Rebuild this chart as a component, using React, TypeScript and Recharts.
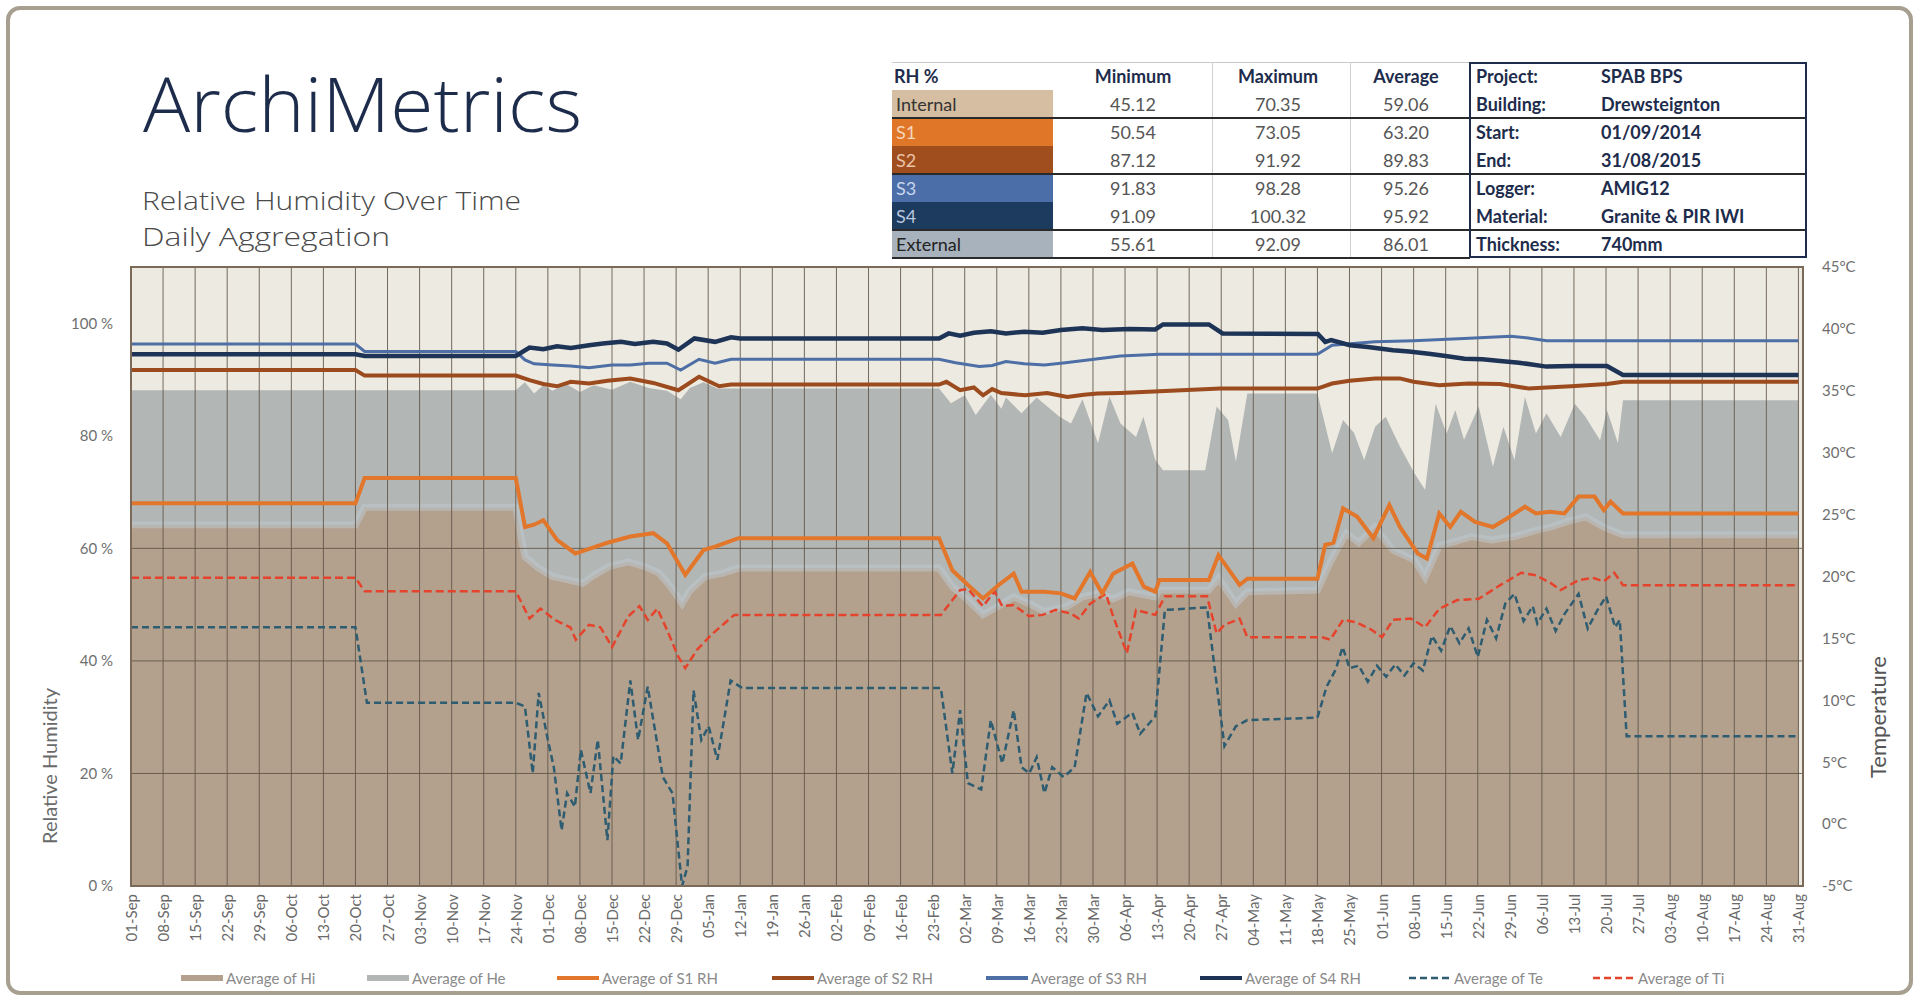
import React from "react";
import {
  ComposedChart,
  Area,
  Line,
  XAxis,
  YAxis,
  CartesianGrid,
  ReferenceLine,
} from "recharts";

// weekly tick labels, day 0 = 01-Sep-2014
const dateLabels = [
  "01-Sep", "08-Sep", "15-Sep", "22-Sep", "29-Sep", "06-Oct", "13-Oct", "20-Oct", "27-Oct",
  "03-Nov", "10-Nov", "17-Nov", "24-Nov", "01-Dec", "08-Dec", "15-Dec", "22-Dec", "29-Dec",
  "05-Jan", "12-Jan", "19-Jan", "26-Jan", "02-Feb", "09-Feb", "16-Feb", "23-Feb",
  "02-Mar", "09-Mar", "16-Mar", "23-Mar", "30-Mar", "06-Apr", "13-Apr", "20-Apr", "27-Apr",
  "04-May", "11-May", "18-May", "25-May", "01-Jun", "08-Jun", "15-Jun", "22-Jun", "29-Jun",
  "06-Jul", "13-Jul", "20-Jul", "27-Jul", "03-Aug", "10-Aug", "17-Aug", "24-Aug", "31-Aug",
];
const weekDays = dateLabels.map((_, i) => i * 7);
const rhTicks = [0, 20, 40, 60, 80, 100];
const tempTicks = [-5, 0, 5, 10, 15, 20, 25, 30, 35, 40, 45];
const rhGridValues = [20, 40, 60];

// [day, value]
const internalRH: [number, number][] = [
  [0, 64.2], [49, 64.2], [51, 67.3], [84, 67.3], [86, 58.5], [89, 56.5], [92, 55.0], [95, 54.5],
  [98.6, 53.8], [101, 55.2], [104.4, 56.8], [108.6, 57.6], [112, 56.8], [115.3, 55.6], [118, 53.0],
  [120.3, 50.2], [122, 52.5], [125.3, 55.0], [129.2, 55.6], [132.6, 56.5], [176.4, 56.5],
  [179.3, 53.2], [182.7, 50.8], [186, 48.2], [189, 49.6], [192.7, 51.4], [196, 50.2], [199.4, 48.8],
  [204.4, 49.7], [207.7, 51.4], [211.1, 52.0], [214.4, 51.0], [217.8, 52.3], [223.6, 51.4],
  [224.5, 52.6], [235.3, 52.6], [237.4, 54.7], [241.2, 50.2], [243.7, 52.3], [259, 52.6],
  [262, 57.9], [265.3, 62.7], [268, 61.0], [271.5, 63.8], [275.5, 59.7], [280.2, 57.9],
  [282.5, 54.9], [285.6, 60.5], [289, 61.2], [292.6, 62.1], [297, 61.5], [302, 62.1],
  [306.7, 63.2], [310, 63.8], [314.4, 65.0], [317.6, 65.6], [321.5, 63.8], [325.7, 62.4], [364, 62.4],
];

const externalRH: [number, number][] = [
  [0, 88.1], [84, 88.1], [86, 89.5], [88, 87.5], [90, 89.0], [92, 88.0], [95, 89.2], [98, 87.8],
  [101, 89.0], [105, 88.2], [109, 89.6], [113, 88.5], [117, 88.0], [120, 86.5], [122, 88.5],
  [125, 89.5], [128, 88.4], [176.4, 88.4], [179, 85.8], [182, 87.2], [184.4, 83.7], [187.7, 87.3],
  [190, 84.8], [191, 86.8], [194.4, 84.0], [197.7, 86.8], [202.7, 83.4], [205.2, 82.2],
  [207.7, 86.5], [211.1, 78.7], [213.6, 87.0], [216, 82.2], [219.4, 79.8], [221, 83.4],
  [223.6, 75.7], [225.3, 73.9], [234.5, 73.9], [237, 85.2], [239.5, 82.8], [241.2, 75.4],
  [243.7, 87.5], [259, 87.5], [262.2, 76.9], [264.6, 82.8], [267, 80.5], [269.2, 75.7],
  [271.6, 81.6], [273.9, 83.4], [277, 78.1], [280.2, 73.3], [282.5, 70.4], [284.8, 85.7],
  [287.2, 80.4], [289.1, 84.6], [291, 79.3], [294.2, 85.2], [297.3, 74.5], [299.6, 81.6],
  [302, 75.7], [304.3, 86.9], [306.7, 80.4], [309, 84.0], [312.1, 79.8], [315.2, 85.7],
  [317.5, 83.4], [320.7, 79.2], [322.2, 84.6], [324.6, 78.7], [325.7, 86.3], [364, 86.3],
];

const s1RH: [number, number][] = [
  [0, 68.0], [49, 68.0], [51, 72.5], [84, 72.5], [86, 63.8], [88, 64.2], [90, 65.0], [93, 61.5],
  [97, 59.1], [100, 59.9], [104, 61.0], [109, 62.1], [114, 62.7], [117, 60.9], [121, 55.3],
  [125, 59.7], [127.5, 60.3], [132.6, 61.8], [176.4, 61.8], [179.3, 56.1], [182.7, 53.5],
  [186, 51.1], [189.4, 53.5], [192.7, 55.5], [194.4, 52.3], [199.4, 52.3], [203, 52.0],
  [206, 51.1], [209.4, 55.8], [212, 52.0], [214.4, 55.5], [218.6, 57.3], [221.1, 53.2],
  [223.6, 52.3], [224.5, 54.4], [235.3, 54.4], [237.4, 58.8], [242, 53.5], [243.7, 54.6],
  [259, 54.6], [260.7, 60.6], [262.5, 61.0], [264.6, 67.1], [267.7, 65.6], [271.2, 61.8],
  [274.7, 67.7], [277, 63.8], [280.9, 59.1], [282.9, 58.2], [285.6, 66.2], [288, 63.8],
  [290.3, 66.5], [293.4, 64.7], [297.3, 63.8], [300.4, 65.3], [304.3, 67.4], [306.7, 66.2],
  [309.8, 66.5], [312.9, 66.2], [316, 69.2], [319.5, 69.2], [321.5, 66.8], [323, 68.3],
  [325.7, 66.2], [364, 66.2],
];

const s2RH: [number, number][] = [
  [0, 91.7], [49, 91.7], [51, 90.7], [84, 90.7], [87, 89.9], [90, 89.2], [93, 88.8], [96, 89.6],
  [100, 89.3], [104, 89.8], [109, 90.2], [114, 89.4], [119.5, 88.1], [124, 90.5], [128.4, 88.8],
  [131, 89.1], [176.4, 89.1], [178, 89.6], [181, 88.1], [184, 88.6], [186, 87.2], [188, 88.3],
  [190, 87.6], [195.2, 87.2], [200, 87.6], [204.4, 86.9], [208, 87.3], [211, 87.5], [216, 87.6],
  [224.5, 87.9], [237.8, 88.4], [259, 88.4], [262.2, 89.3], [266, 89.8], [271.6, 90.2],
  [277, 90.2], [280, 89.6], [285.6, 89.0], [292, 89.3], [298.9, 89.2], [305.1, 88.4],
  [309, 88.6], [314.4, 88.8], [322.2, 89.2], [325.7, 89.6], [364, 89.6],
];

const s3RH: [number, number][] = [
  [0, 96.3], [49, 96.3], [51, 95.0], [84, 95.0], [86, 93.5], [88, 92.8], [92, 92.6], [96, 92.4],
  [100, 92.1], [105, 92.6], [109, 92.6], [113, 92.9], [117, 92.9], [120, 91.7], [124, 93.6],
  [127.5, 92.9], [131, 93.6], [176.4, 93.6], [180, 93.0], [185.2, 92.3], [188, 92.5], [191, 93.2],
  [195, 92.8], [199.4, 92.6], [204, 93.0], [208, 93.4], [212, 93.8], [216, 94.2], [224.5, 94.5],
  [259, 94.5], [262.2, 96.1], [271.6, 96.7], [280, 96.9], [291, 97.3], [301.2, 97.7],
  [305, 97.4], [309, 96.9], [364, 96.9],
];

const s4RH: [number, number][] = [
  [0, 94.5], [49, 94.5], [51, 94.2], [84, 94.2], [87, 95.7], [90, 95.4], [93, 95.9], [96, 95.6],
  [100, 96.1], [103, 96.4], [107, 96.7], [110, 96.3], [114, 96.7], [117, 96.4], [119.5, 95.3],
  [123, 97.3], [127.5, 96.7], [131, 97.5], [133, 97.3], [176.4, 97.3], [178.5, 98.2], [181, 97.8],
  [184, 98.3], [187.7, 98.6], [191, 98.2], [195, 98.5], [199, 98.3], [203, 98.8], [207.7, 99.1],
  [212, 98.8], [218, 99.0], [223.6, 98.9], [225.3, 99.8], [235.3, 99.8], [238.3, 98.2],
  [259.1, 98.1], [260.7, 96.7], [262, 97.0], [266.1, 96.1], [270, 95.8], [275.5, 95.2],
  [279, 95.0], [283.3, 94.6], [287, 94.2], [291.1, 93.7], [295, 93.6], [298.9, 93.3],
  [303, 93.0], [309, 92.3], [315, 92.4], [322.2, 92.4], [325.7, 90.8], [364, 90.8],
];

const extTemp: [number, number][] = [
  [0, 15.9], [49, 15.9], [51.5, 9.8], [84, 9.8], [86, 9.5], [87.7, 4.1], [89, 10.6], [91, 6.8],
  [92.3, 4.6], [94, -0.5], [95.2, 2.5], [96.9, 1.4], [98.2, 6.0], [100.3, 2.5], [101.9, 6.8],
  [104, -1.3], [105.3, 5.5], [106.9, 4.9], [109, 11.6], [110.7, 6.8], [112.8, 11.1], [116.1, 3.8],
  [118.2, 2.5], [120.3, -5.0], [121.5, -3.4], [122.8, 10.8], [124.5, 6.8], [126.1, 7.9],
  [128, 5.2], [130.9, 11.6], [133.4, 11.0], [176.8, 11.0], [179.3, 4.1], [181, 9.2], [182.7, 3.3],
  [185.6, 2.8], [187.7, 8.4], [190.2, 4.9], [192.7, 9.2], [194.4, 4.6], [196.1, 4.1], [197.7, 5.4],
  [199.4, 2.5], [201.1, 4.6], [203.6, 3.8], [206, 4.6], [208.6, 10.6], [211.1, 8.7], [213.6, 10.0],
  [215.3, 8.1], [218.6, 9.0], [220.3, 7.3], [223.6, 8.7], [225.7, 17.3], [234.9, 17.5],
  [238.7, 6.3], [241.2, 7.9], [243.7, 8.4], [259, 8.6], [261, 11.1], [263, 12.5], [264.5, 14.3],
  [266, 12.6], [268, 12.8], [270, 11.5], [272, 12.8], [274, 11.9], [276, 12.9], [278, 12.0],
  [280, 13.0], [282, 12.4], [284, 15.2], [286, 14.0], [288, 16.0], [290, 14.6], [292, 15.8],
  [294, 13.5], [296, 16.5], [298, 15.0], [300, 17.8], [302, 18.6], [304, 16.4], [306, 17.6],
  [307, 16.2], [309, 17.4], [311, 15.6], [313, 17.0], [316, 18.6], [318, 15.8], [320, 17.2],
  [322, 18.4], [324, 15.9], [325, 16.5], [326.5, 7.1], [364, 7.1],
];

const intTemp: [number, number][] = [
  [0, 19.9], [49, 19.9], [51, 18.8], [84, 18.8], [87, 16.6], [89.4, 17.4], [92.5, 16.5],
  [95.9, 15.9], [97.1, 14.9], [100, 16.1], [102.5, 15.9], [105, 14.3], [108.6, 16.8], [111, 17.6],
  [112.8, 16.5], [114.9, 17.4], [117, 15.7], [119.5, 13.5], [121, 12.6], [123.6, 14.1],
  [127, 15.4], [131.7, 16.9], [176.8, 16.9], [181, 18.9], [182.7, 19.0], [186, 17.6],
  [188.5, 18.8], [190.2, 17.6], [192.7, 17.7], [196, 16.8], [199, 16.9], [201.9, 17.3],
  [205.2, 17.0], [206.9, 16.6], [209.4, 17.8], [212.8, 18.6], [214.4, 16.8], [217.4, 13.8],
  [219.4, 17.3], [223.6, 16.9], [225.7, 18.4], [234.9, 18.4], [237, 15.4], [238.7, 16.1],
  [240.8, 16.4], [242, 16.6], [243.7, 15.1], [259.9, 15.1], [261.8, 14.9], [264.6, 16.5],
  [267.5, 16.3], [270.8, 15.7], [273.1, 15.1], [275.5, 16.5], [279.4, 16.6], [282.5, 15.9],
  [285.6, 17.4], [289.5, 18.1], [294.2, 18.2], [298.9, 19.3], [303.5, 20.3], [306.7, 20.1],
  [309.8, 19.5], [312.1, 18.9], [316, 19.7], [319.1, 19.9], [321.5, 19.6], [323.8, 20.3],
  [325.7, 19.3], [364, 19.3],
];

// summary table
const rhRows = ["Internal", "S1", "S2", "S3", "S4", "External"];
const rhMin = [45.12, 50.54, 87.12, 91.83, 91.09, 55.61];
const rhMax = [70.35, 73.05, 91.92, 98.28, 100.32, 92.09];
const rhAvg = [59.06, 63.2, 89.83, 95.26, 95.92, 86.01];
const infoLabels = ["Project:", "Building:", "Start:", "End:", "Logger:", "Material:", "Thickness:"];
const infoValues = ["SPAB BPS", "Drewsteignton", "01/09/2014", "31/08/2015", "AMIG12", "Granite & PIR IWI", "740mm"];

const legendNames = [
  "Average of Hi", "Average of He", "Average of S1 RH", "Average of S2 RH",
  "Average of S3 RH", "Average of S4 RH", "Average of Te", "Average of Ti",
];

const C = {
  hi: "#B3A18E",
  he: "#B2B6B5",
  s1: "#E2762A",
  s2: "#9C4B1F",
  s3: "#4D6FA5",
  s4: "#1E3457",
  te: "#2E5C70",
  ti: "#E5432C",
  grid: "#5E5347",
  navy: "#1E2C4C",
};

const rowColors = ["#D6BEA2", "#E07628", "#A04E1E", "#4B6EA8", "#1D3A5F", "#A8B2BD"];
const rowText = ["#333", "#F6D6BC", "#EBC4A8", "#C9D6EE", "#B9C6DD", "#222"];
const legendStyle = [
  { c: C.hi, dash: "", w: 6 },
  { c: C.he, dash: "", w: 6 },
  { c: C.s1, dash: "", w: 4 },
  { c: C.s2, dash: "", w: 4 },
  { c: C.s3, dash: "", w: 4 },
  { c: C.s4, dash: "", w: 4 },
  { c: C.te, dash: "7 4", w: 2.5 },
  { c: C.ti, dash: "7 4", w: 2.5 },
];
const legendX = [181, 367, 557, 772, 986, 1200, 1409, 1593];

// merge all series into one table for the chart
const seriesMap: Record<string, [number, number][]> = {
  hi: internalRH, he: externalRH, s1: s1RH, s2: s2RH, s3: s3RH, s4: s4RH, te: extTemp, ti: intTemp,
};
const rowMap = new Map<number, any>();
Object.entries(seriesMap).forEach(([key, pts]) => {
  pts.forEach(([d, v]) => {
    const r = rowMap.get(d) ?? { d };
    r[key] = v;
    rowMap.set(d, r);
  });
});
const chartData = [...rowMap.values()].sort((a, b) => a.d - b.d);

const FONT = "Lato, 'Open Sans', sans-serif";
const TITLE_FONT = "'Open Sans', Lato, sans-serif";

const DateTick = (props: any) => {
  const { x, y, payload } = props;
  const label = dateLabels[Math.round(payload.value / 7)];
  return (
    <text
      x={x}
      y={y}
      transform={`rotate(-90 ${x} ${y})`}
      textAnchor="end"
      dominantBaseline="central"
      fontSize={15}
      fill="#6a6a6a"
      fontFamily={FONT}
    >
      {label}
    </text>
  );
};

const ROW_TOP = 62;
const ROW_H = 28;

function SummaryTable() {
  const cell: React.CSSProperties = {
    position: "absolute",
    height: ROW_H,
    lineHeight: `${ROW_H}px`,
    fontSize: 18,
    fontFamily: FONT,
    whiteSpace: "nowrap",
  };
  const centers = [1133, 1278, 1406];
  const headers = ["Minimum", "Maximum", "Average"];
  return (
    <div style={{ position: "absolute", left: 0, top: 0 }}>
      {/* header */}
      <div style={{ ...cell, left: 894, top: ROW_TOP, fontWeight: 700, color: C.navy }}>RH %</div>
      {headers.map((h, i) => (
        <div
          key={h}
          style={{ ...cell, left: centers[i] - 60, width: 120, top: ROW_TOP, textAlign: "center", fontWeight: 700, color: C.navy }}
        >
          {h}
        </div>
      ))}
      {rhRows.map((r, i) => {
        const top = ROW_TOP + ROW_H * (i + 1);
        return (
          <React.Fragment key={r}>
            <div style={{ ...cell, left: 892, top, width: 161, background: rowColors[i], color: rowText[i], paddingLeft: 4, boxSizing: "border-box" }}>
              {r}
            </div>
            {[rhMin[i], rhMax[i], rhAvg[i]].map((v, j) => (
              <div key={j} style={{ ...cell, left: centers[j] - 50, width: 100, top, textAlign: "center", color: "#555" }}>
                {v.toFixed(2)}
              </div>
            ))}
          </React.Fragment>
        );
      })}
      {/* grid lines of the table */}
      <div style={{ position: "absolute", left: 892, top: ROW_TOP, width: 578, height: 1, background: "#c8c8c8" }} />
      {[1212, 1350].map((x) => (
        <div key={x} style={{ position: "absolute", left: x, top: ROW_TOP, width: 1, height: ROW_H * 7, background: "#d0d0d0" }} />
      ))}
      {[2, 4, 6].map((k) => (
        <div key={k} style={{ position: "absolute", left: 892, top: ROW_TOP + ROW_H * k - 1, width: 915, height: 2, background: "#2a2a2a" }} />
      ))}
      <div style={{ position: "absolute", left: 892, top: ROW_TOP + ROW_H * 7 - 1, width: 578, height: 2, background: "#2a2a2a" }} />
      {/* info box */}
      <div
        style={{
          position: "absolute",
          left: 1469,
          top: ROW_TOP,
          width: 338,
          height: ROW_H * 7,
          border: `2px solid ${C.navy}`,
          boxSizing: "border-box",
        }}
      />
      {infoLabels.map((l, i) => (
        <React.Fragment key={l}>
          <div style={{ ...cell, left: 1476, top: ROW_TOP + ROW_H * i, fontWeight: 700, color: C.navy }}>{l}</div>
          <div style={{ ...cell, left: 1601, top: ROW_TOP + ROW_H * i, fontWeight: 700, color: C.navy }}>{infoValues[i]}</div>
        </React.Fragment>
      ))}
    </div>
  );
}

function LegendRow() {
  return (
    <svg width={1921} height={40} style={{ position: "absolute", left: 0, top: 958 }}>
      {legendNames.map((n, i) => {
        const s = legendStyle[i];
        const x = legendX[i];
        return (
          <g key={n}>
            <line x1={x} x2={x + 42} y1={20} y2={20} stroke={s.c} strokeWidth={s.w} strokeDasharray={s.dash || undefined} />
            <text x={x + 45} y={20} dominantBaseline="central" fontSize={15} fill="#8a8a8a" fontFamily={FONT}>
              {n}
            </text>
          </g>
        );
      })}
    </svg>
  );
}

export default function App() {
  return (
    <div style={{ position: "absolute", left: 0, top: 0, width: 1921, height: 1001, background: "#fff", overflow: "hidden" }}>
      {/* outer frame */}
      <div
        style={{
          position: "absolute",
          left: 6,
          top: 6,
          width: 1907,
          height: 989,
          border: "4px solid #A79F90",
          borderRadius: 14,
          boxSizing: "border-box",
        }}
      />
      {/* plot background */}
      <div style={{ position: "absolute", left: 131, top: 267, width: 1672, height: 619, background: "#EDEAE1" }} />

      <div style={{ position: "absolute", left: 0, top: 0 }}>
        <ComposedChart width={1921} height={1001} data={chartData} margin={{ top: 267, right: 0, bottom: 0, left: 0 }}>
          <XAxis
            dataKey="d"
            type="number"
            domain={[0, 365]}
            ticks={weekDays}
            interval={0}
            allowDataOverflow
            axisLine={false}
            tickLine={false}
            tickSize={0}
            tickMargin={8}
            height={115}
            tick={<DateTick />}
          />
          <YAxis
            yAxisId="rh"
            domain={[0, 110]}
            ticks={rhTicks}
            allowDataOverflow
            width={131}
            axisLine={false}
            tickLine={false}
            tickSize={0}
            tickMargin={18}
            tickFormatter={(v) => `${v} %`}
            tick={{ fill: "#6f6f6f", fontSize: 15, fontFamily: FONT }}
          />
          <YAxis
            yAxisId="t"
            orientation="right"
            domain={[-5, 45]}
            ticks={tempTicks}
            allowDataOverflow
            width={118}
            axisLine={false}
            tickLine={false}
            tickSize={0}
            tickMargin={19}
            tickFormatter={(v) => `${v}°C`}
            tick={{ fill: "#6f6f6f", fontSize: 15, fontFamily: FONT, textAnchor: "start" }}
          />

          <Area yAxisId="rh" type="linear" dataKey="he" fill={C.he} fillOpacity={1} stroke="none" connectNulls isAnimationActive={false} />
          <Area
            yAxisId="rh"
            type="linear"
            dataKey="hi"
            fill={C.hi}
            fillOpacity={1}
            stroke="#BEC9CE"
            strokeWidth={7}
            strokeOpacity={0.55}
            connectNulls
            isAnimationActive={false}
          />

          <CartesianGrid
            yAxisId="rh"
            horizontal={false}
            vertical
            stroke={C.grid}
            strokeOpacity={0.85}
            strokeWidth={1}
            zIndex={150}
          />
          {rhGridValues.map((v) => (
            <ReferenceLine key={v} yAxisId="rh" y={v} stroke={C.grid} strokeOpacity={0.85} strokeWidth={1} zIndex={150} />
          ))}

          <Line yAxisId="t" type="linear" dataKey="ti" stroke={C.ti} strokeWidth={2.5} strokeDasharray="8 4" dot={false} connectNulls isAnimationActive={false} />
          <Line yAxisId="t" type="linear" dataKey="te" stroke={C.te} strokeWidth={2.5} strokeDasharray="7 4" dot={false} connectNulls isAnimationActive={false} />
          <Line yAxisId="rh" type="linear" dataKey="s1" stroke={C.s1} strokeWidth={4} dot={false} connectNulls isAnimationActive={false} />
          <Line yAxisId="rh" type="linear" dataKey="s2" stroke={C.s2} strokeWidth={4} dot={false} connectNulls isAnimationActive={false} />
          <Line yAxisId="rh" type="linear" dataKey="s3" stroke={C.s3} strokeWidth={3} dot={false} connectNulls isAnimationActive={false} />
          <Line yAxisId="rh" type="linear" dataKey="s4" stroke={C.s4} strokeWidth={4.5} dot={false} connectNulls isAnimationActive={false} />
        </ComposedChart>
      </div>

      {/* plot frame */}
      <div
        style={{
          position: "absolute",
          left: 130,
          top: 266,
          width: 1674,
          height: 621,
          border: "2px solid #7B6A57",
          boxSizing: "border-box",
          pointerEvents: "none",
        }}
      />

      {/* titles and axis names */}
      <svg width={1921} height={1001} style={{ position: "absolute", left: 0, top: 0, pointerEvents: "none" }}>
        <text x={143} y={132} fontSize={76} fontWeight={300} fill={C.navy} fontFamily={TITLE_FONT} textLength={439} lengthAdjust="spacingAndGlyphs">
          ArchiMetrics
        </text>
        <text x={142} y={210} fontSize={25} fontWeight={300} fill="#4a4a4a" fontFamily={TITLE_FONT} textLength={379} lengthAdjust="spacingAndGlyphs">
          Relative Humidity Over Time
        </text>
        <text x={142} y={246} fontSize={25} fontWeight={300} fill="#4a4a4a" fontFamily={TITLE_FONT} textLength={248} lengthAdjust="spacingAndGlyphs">
          Daily Aggregation
        </text>
        <text x={49} y={766} fontSize={20} fill="#6a6a6a" fontFamily={FONT} textAnchor="middle" dominantBaseline="central" transform="rotate(-90 49 766)">
          Relative Humidity
        </text>
        <text x={1877} y={717} fontSize={22} fill="#555" fontFamily={FONT} textAnchor="middle" dominantBaseline="central" transform="rotate(-90 1877 717)">
          Temperature
        </text>
      </svg>

      <SummaryTable />
      <LegendRow />
    </div>
  );
}
